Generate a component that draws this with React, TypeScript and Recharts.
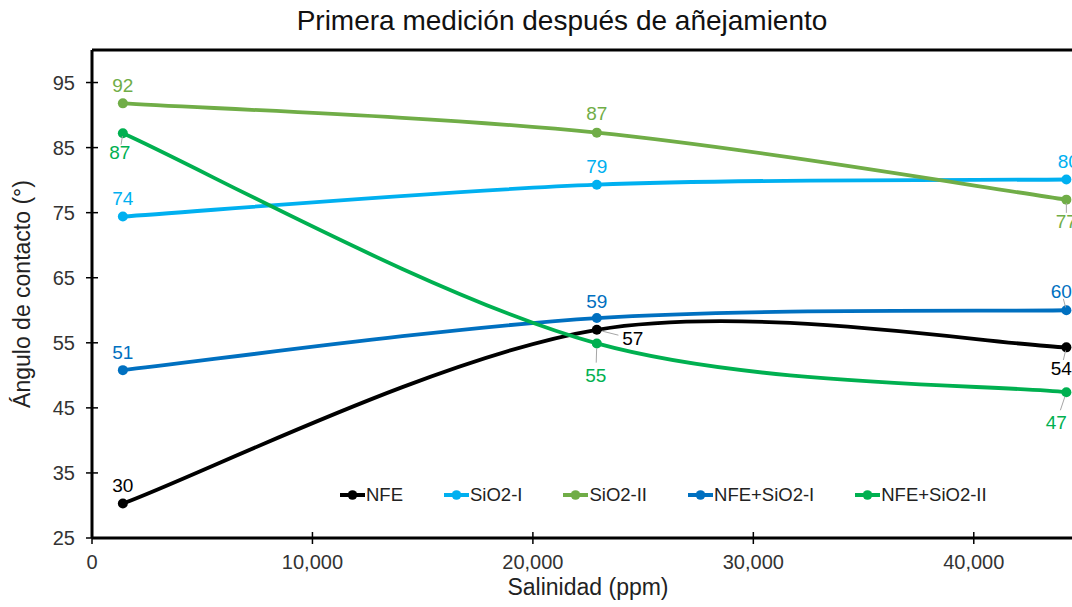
import React from 'react';
import { LineChart, Line, XAxis, YAxis, ReferenceLine, Legend, LabelList, Label } from 'recharts';

// salinity (ppm) of the three measurements
const salinity = [1400, 22900, 44200];

// contact angle (°) per sample
const nfe = [30.3, 57.0, 54.3];
const sio2I = [74.4, 79.3, 80.1];
const sio2II = [91.8, 87.3, 77.0];
const nfeSio2I = [50.8, 58.8, 60.0];
const nfeSio2II = [87.2, 54.9, 47.4];

const xTicks = [0, 10000, 20000, 30000, 40000];
const yTicks = [25, 35, 45, 55, 65, 75, 85, 95];

const data = salinity.map((s, i) => ({
  s,
  nfe: nfe[i],
  sio2I: sio2I[i],
  sio2II: sio2II[i],
  nfeSio2I: nfeSio2I[i],
  nfeSio2II: nfeSio2II[i],
}));

type LabelPos = { dx: number; dy: number; leader?: boolean };

const series: { key: string; name: string; color: string; labels: LabelPos[] }[] = [
  {
    key: 'nfe', name: 'NFE', color: '#000000',
    labels: [{ dx: 0, dy: -18 }, { dx: 36, dy: 9, leader: true }, { dx: -5, dy: 21, leader: true }],
  },
  {
    key: 'sio2I', name: 'SiO2-I', color: '#00B0F0',
    labels: [{ dx: 0, dy: -18 }, { dx: 0, dy: -18 }, { dx: 2, dy: -18 }],
  },
  {
    key: 'sio2II', name: 'SiO2-II', color: '#70AD47',
    labels: [{ dx: 0, dy: -18 }, { dx: 0, dy: -19 }, { dx: 0, dy: 22, leader: true }],
  },
  {
    key: 'nfeSio2I', name: 'NFE+SiO2-I', color: '#0070C0',
    labels: [{ dx: 0, dy: -18 }, { dx: 0, dy: -17 }, { dx: -5, dy: -19, leader: true }],
  },
  {
    key: 'nfeSio2II', name: 'NFE+SiO2-II', color: '#00B050',
    labels: [{ dx: -3, dy: 19, leader: true }, { dx: -1, dy: 32, leader: true }, { dx: -10, dy: 30, leader: true }],
  },
];

// smoothed line like the spreadsheet one (catmull-rom through the points)
const smoothCurve = (context: any) => {
  let pts: number[][] = [];
  return {
    areaStart() {},
    areaEnd() {},
    lineStart() { pts = []; },
    point(x: number, y: number) { pts.push([+x, +y]); },
    lineEnd() {
      const n = pts.length;
      if (!n) return;
      context.moveTo(pts[0][0], pts[0][1]);
      for (let i = 0; i < n - 1; i++) {
        const p0 = pts[i - 1] || pts[i];
        const p1 = pts[i];
        const p2 = pts[i + 1];
        const p3 = pts[i + 2] || pts[i + 1];
        context.bezierCurveTo(
          p1[0] + (p2[0] - p0[0]) / 6, p1[1] + (p2[1] - p0[1]) / 6,
          p2[0] - (p3[0] - p1[0]) / 6, p2[1] - (p3[1] - p1[1]) / 6,
          p2[0], p2[1]
        );
      }
    },
  };
};

const YTick = ({ x, y, payload }: any) => (
  <g>
    <line x1={x - 6} x2={x + 6} y1={y} y2={y} stroke="#000" strokeWidth={1.5} />
    <text x={x - 17} y={y} textAnchor="end" dominantBaseline="central" fontSize={20} fill="#333">
      {payload.value}
    </text>
  </g>
);

const XTick = ({ x, y, payload }: any) => (
  <g>
    <line x1={x} x2={x} y1={y - 6} y2={y + 6} stroke="#000" strokeWidth={1.5} />
    <text x={x} y={y + 31} textAnchor="middle" fontSize={20} fill="#333">
      {payload.value.toLocaleString('en-US')}
    </text>
  </g>
);

const makeLabel = (color: string, pos: LabelPos[]) => (props: any) => {
  const { x, y, value, index } = props;
  const p = pos[index] || { dx: 0, dy: -18 };
  const tx = x + p.dx;
  const ty = y + p.dy;
  return (
    <g>
      {p.leader && (
        <line
          x1={x + p.dx * 0.15} y1={y + p.dy * 0.15}
          x2={x + p.dx * 0.6} y2={y + p.dy * 0.6}
          stroke="#a6a6a6" strokeWidth={1}
        />
      )}
      <text x={tx} y={ty} textAnchor="middle" dominantBaseline="central" fontSize={19} fill={color}>
        {Math.round(value)}
      </text>
    </g>
  );
};

const renderLegend = () => (
  <div style={{ display: 'flex', gap: 41, alignItems: 'center', fontSize: 18.5, color: '#222', whiteSpace: 'nowrap' }}>
    {series.map((s) => (
      <div key={s.key} style={{ display: 'flex', alignItems: 'center' }}>
        <svg width={25} height={12} style={{ marginRight: 1 }}>
          <line x1={0} x2={25} y1={6} y2={6} stroke={s.color} strokeWidth={4} />
          <circle cx={12.5} cy={6} r={4.8} fill={s.color} />
        </svg>
        <span>{s.name}</span>
      </div>
    ))}
  </div>
);

export default function App() {
  return (
    <div
      style={{
        position: 'absolute', left: 0, top: 0, width: 1072, height: 607,
        overflow: 'hidden', background: '#fff',
        fontFamily: '"Liberation Sans", Arial, sans-serif',
      }}
    >
      <div
        style={{
          position: 'absolute', left: 0, top: 7, width: 1124, textAlign: 'center',
          fontSize: 28, lineHeight: '28px', color: '#111', zIndex: 2,
        }}
      >
        Primera medición después de añejamiento
      </div>
      <LineChart width={1100} height={607} data={data} margin={{ top: 50, right: 16, bottom: 0, left: 0 }}>
        <XAxis
          type="number"
          dataKey="s"
          domain={[0, 45000]}
          ticks={xTicks}
          height={69}
          tickSize={0}
          tickMargin={0}
          tickLine={false}
          tick={<XTick />}
          axisLine={{ stroke: '#000', strokeWidth: 3 }}
          interval={0}
        >
          <Label
            content={({ viewBox }: any) => (
              <text x={viewBox.x + viewBox.width / 2} y={viewBox.y + 57} textAnchor="middle" fontSize={23} fill="#222">
                Salinidad (ppm)
              </text>
            )}
          />
        </XAxis>
        <YAxis
          type="number"
          domain={[25, 100]}
          ticks={yTicks}
          width={92}
          tickSize={0}
          tickMargin={0}
          tickLine={false}
          tick={<YTick />}
          axisLine={{ stroke: '#000', strokeWidth: 3 }}
          interval={0}
        >
          <Label
            content={({ viewBox }: any) => {
              const cy = viewBox.y + viewBox.height / 2;
              return (
                <text
                  x={22} y={cy} textAnchor="middle" dominantBaseline="central"
                  fontSize={23} fill="#222" transform={`rotate(-90, 22, ${cy})`}
                >
                  Ángulo de contacto (°)
                </text>
              );
            }}
          />
        </YAxis>
        <ReferenceLine y={100} stroke="#000" strokeWidth={3} />
        <ReferenceLine x={45000} stroke="#000" strokeWidth={3} />
        <Legend
          verticalAlign="middle"
          layout="horizontal"
          content={renderLegend}
          wrapperStyle={{ top: 484, left: 340, width: 'auto' }}
        />
        {series.map((s) => (
          <Line
            key={s.key}
            dataKey={s.key}
            name={s.name}
            type={smoothCurve as any}
            stroke={s.color}
            strokeWidth={3.8}
            dot={{ r: 5, fill: s.color, stroke: 'none' }}
            activeDot={false}
            isAnimationActive={false}
          >
            <LabelList dataKey={s.key} content={makeLabel(s.color, s.labels)} />
          </Line>
        ))}
      </LineChart>
    </div>
  );
}
